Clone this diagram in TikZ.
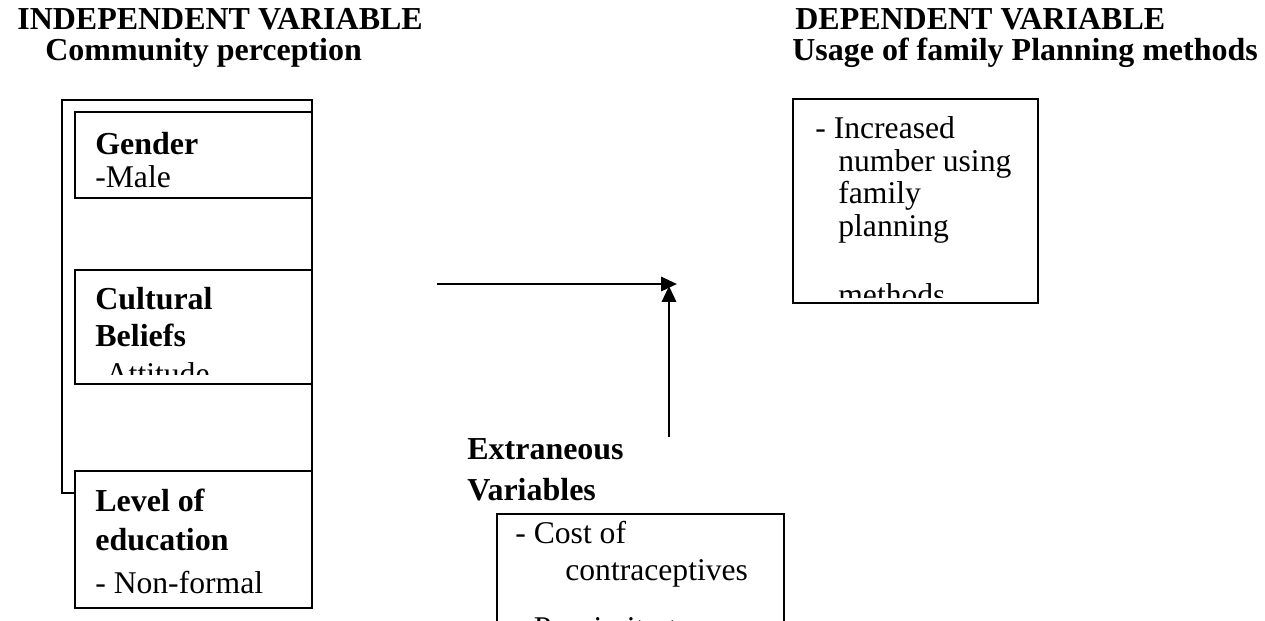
\documentclass[tikz,border=0pt]{standalone}
\usepackage{fontspec}
\setmainfont{Liberation Serif}
\usetikzlibrary{arrows.meta}

\begin{document}
\begin{tikzpicture}[x=0.02cm,y=-0.02cm,
    box/.style={draw,line width=1pt,fill=white},
    txt/.style={anchor=base west,inner sep=0pt,font=\fontsize{18}{21}\selectfont},
    head/.style={txt,font=\fontsize{18.2}{21}\selectfont\bfseries},
    arr/.style={line width=1.6pt,-{Triangle[length=9pt,width=8pt]}}]
    \useasboundingbox (0,0) rectangle (1265,620);
    \node[head] (indep) at (17,29) {INDEPENDENT VARIABLE};
    \node[head] (percep) at (45,60) {Community perception};
    \node[head] (dep) at (795,29) {DEPENDENT VARIABLE};
    \node[head] (usage) at (792,60) {Usage of family Planning methods};
    \draw[box] (62,100) rectangle (312,493);
    \draw[box] (75,112) rectangle (312,198);
    \node[head] (gender) at (95,154) {Gender};
    \node[txt] (male) at (95,187) {-Male};
    \draw[box] (75,270) rectangle (312,384);
    \node[head] (cultural) at (95,309) {Cultural};
    \node[head] (beliefs) at (95,346) {Beliefs};
    \begin{scope}
      \clip (75,270) rectangle (312,374);
      \node[txt] (attitude) at (95,384) {-Attitude};
    \end{scope}
    \draw[box] (75,471) rectangle (312,608);
    \node[head] (level) at (95,511) {Level of};
    \node[head] (educ) at (95,550) {education};
    \node[txt] (nonformal) at (95,593) {- Non-formal};
    \draw[box] (793,99) rectangle (1038,303);
    \node[txt] (increased) at (815,138) {- Increased};
    \node[txt] (number) at (838,171) {number using};
    \node[txt] (family) at (838,203) {family};
    \node[txt] (planning) at (838,236) {planning};
    \begin{scope}
      \clip (793,99) rectangle (1038,297);
      \node[txt] (methods) at (838,305) {methods};
    \end{scope}
    \node[head] (extran) at (467,459) {Extraneous};
    \node[head] (variables) at (467,500) {Variables};
    \draw[line width=1pt] (497,625) -- (497,514) -- (784,514) -- (784,625);
    \node[txt] (cost) at (515,543) {- Cost of};
    \node[txt] (contra) at (565,580) {contraceptives};
    \begin{scope}
      \clip (497,514) rectangle (784,620);
      \node[txt] (proximity) at (515,638) {- Proximity to};
    \end{scope}
    \coordinate (start) at (437,284);
    \coordinate (meet) at (677,284);
    \coordinate (extop) at (669,437);
    \coordinate (extip) at (669,286);
    \draw[arr] (start) -- (meet);
    \draw[arr] (extop) -- (extip);
\end{tikzpicture}
\end{document}
